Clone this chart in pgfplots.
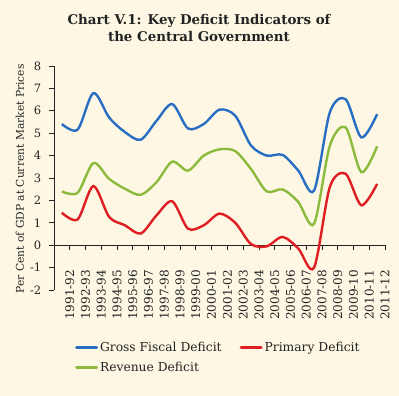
\documentclass[border=0pt]{standalone}
\usepackage{pgfplots}
\pgfplotsset{compat=1.18}
\usepackage{fontspec}
\setmainfont{DejaVu Serif}
\definecolor{bgc}{RGB}{253,247,228}
\definecolor{gfd}{RGB}{40,110,195}
\definecolor{pdc}{RGB}{222,30,35}
\definecolor{rdc}{RGB}{140,186,60}
\definecolor{txt}{RGB}{35,35,35}
\begin{document}
\begin{tikzpicture}[x=1bp,y=1bp]
\fill[bgc] (0,0) rectangle (399,396);
\useasboundingbox (0,0) rectangle (399,396);
\node[anchor=base,font=\fontsize{13.4bp}{15bp}\selectfont\bfseries,text=txt,inner sep=0] at (199,372) {Chart V.1: Key Deficit Indicators of};
\node[anchor=base,font=\fontsize{13.4bp}{15bp}\selectfont\bfseries,text=txt,inner sep=0] at (199,354.3) {the Central Government};
\begin{axis}[
  at={(54bp,106bp)}, anchor=south west, scale only axis,
  width=331bp, height=224bp,
  xmin=-0.5, xmax=20.5, ymin=-2, ymax=8,
  axis x line*=middle, axis y line*=left,
  axis line style={txt, line width=0.8bp},
  tick style={txt, line width=0.8bp},
  tick align=outside, major tick length=4.5bp,
  ytick={-2,-1,0,1,2,3,4,5,6,7,8},
  xtick={0.5,1.5,...,20.5},
  xticklabels={1991-92,1992-93,1993-94,1994-95,1995-96,1996-97,1997-98,1998-99,1999-00,2000-01,2001-02,2002-03,2003-04,2004-05,2005-06,2006-07,2007-08,2008-09,2009-10,2010-11,2011-12},
  xticklabel style={rotate=90, anchor=east, xshift=-20bp, font=\fontsize{12bp}{12bp}\selectfont, text=txt, inner sep=0pt},
  yticklabel style={font=\fontsize{11.5bp}{12bp}\selectfont, text=txt, anchor=east, inner sep=0pt},
  yticklabel shift=8bp,
  /pgf/number format/assume math mode=true,
  ylabel={Per Cent of GDP at Current Market Prices},
  ylabel style={at={(axis description cs:-0.103,0.496)}, anchor=center, font=\fontsize{10.7bp}{13bp}\selectfont, text=txt},
  clip=false,
  legend columns=2,
  legend cell align=left,
  legend style={at={(0.054,-0.214)}, anchor=north west, draw=none, fill=none,
    font=\fontsize{12.3bp}{13bp}\selectfont, text=txt, row sep=5bp,
    /tikz/every even column/.append style={column sep=16bp}},
  legend image code/.code={\draw[#1, line width=3bp, line cap=round] (0bp,0bp) -- (20bp,0bp);},
]
\addplot[gfd, line width=2.4bp, smooth] coordinates {
(0,5.41) (1,5.16) (2,6.79) (3,5.7) (4,5.05) (5,4.71) (6,5.55) (7,6.3) (8,5.21) (9,5.41)
(10,6.05) (11,5.78) (12,4.45) (13,4.0) (14,4.03) (15,3.33) (16,2.44) (17,5.93) (18,6.52) (19,4.81) (20,5.85)};
\addlegendentry{Gross Fiscal Deficit}
\addplot[pdc, line width=2.4bp, smooth] coordinates {
(0,1.45) (1,1.15) (2,2.64) (3,1.26) (4,0.89) (5,0.52) (6,1.33) (7,1.96) (8,0.74) (9,0.89)
(10,1.41) (11,1.0) (12,0.05) (13,-0.05) (14,0.37) (15,-0.15) (16,-1.0) (17,2.6) (18,3.19) (19,1.78) (20,2.74)};
\addlegendentry{Primary Deficit}
\addplot[rdc, line width=2.4bp, smooth] coordinates {
(0,2.4) (1,2.34) (2,3.67) (3,2.96) (4,2.52) (5,2.25) (6,2.81) (7,3.73) (8,3.33) (9,4.0)
(10,4.28) (11,4.2) (12,3.4) (13,2.4) (14,2.49) (15,1.93) (16,0.96) (17,4.44) (18,5.26) (19,3.26) (20,4.41)};
\addlegendentry{Revenue Deficit}
\end{axis}
\end{tikzpicture}
\end{document}
